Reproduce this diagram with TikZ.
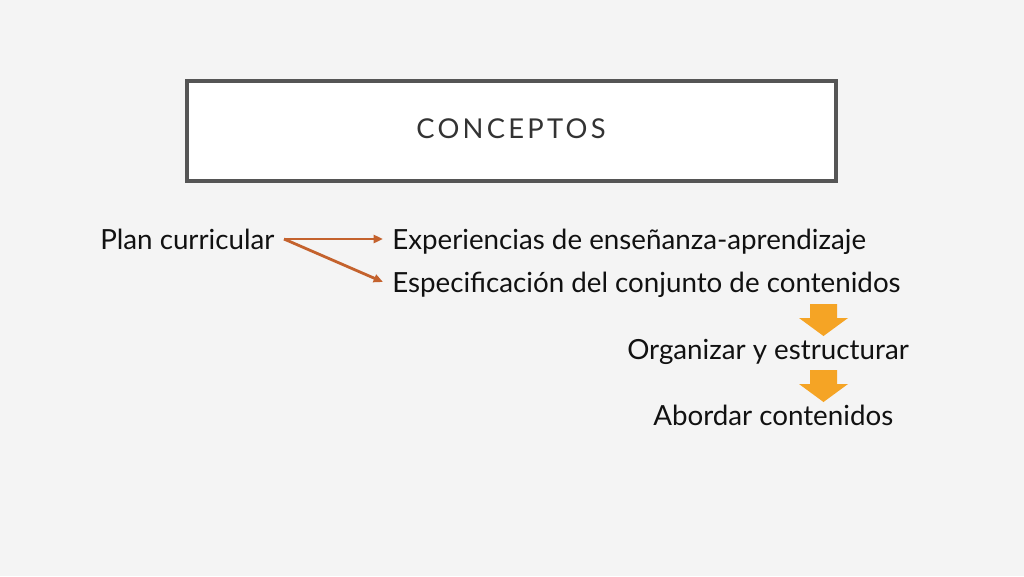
\documentclass[tikz,border=0pt]{standalone}
\usepackage{fontspec}
\setmainfont{Lato}
\usetikzlibrary{arrows.meta}
\definecolor{bg}{HTML}{F4F4F4}
\definecolor{boxline}{HTML}{555555}
\definecolor{conn}{HTML}{C4622D}
\definecolor{blockarr}{HTML}{F5A425}
\definecolor{txt}{HTML}{111111}
\definecolor{ttl}{HTML}{333333}
\tikzset{
  body/.style={anchor=base west, inner sep=0pt, text=txt, font=\fontsize{20.8}{25}\selectfont},
  title/.style={anchor=base, inner sep=0pt, text=ttl, font=\fontsize{20.5}{24}\selectfont\addfontfeatures{LetterSpace=12}},
  conn/.style={draw=conn, line width=2.1pt, -{Triangle[length=7pt,width=6pt]}},
  blockarrow/.style={fill=blockarr, draw=none}
}
\begin{document}
\begin{tikzpicture}[x=0.75pt,y=-0.75pt]
\fill[bg] (0,0) rectangle (1024,576);
\useasboundingbox (0,0) rectangle (1024,576);
\draw[boxline, line width=2.3pt, fill=white] (187,81) rectangle (836,181);
\node[title] (t) at (511,138) {CONCEPTOS};
\node[body] (plan) at (100,249) {Plan curricular};
\coordinate (s) at (284,239);
\node[body] (exp) at (392,249) {Experiencias de enseñanza-aprendizaje};
\node[body] (esp) at (392,292) {Especificación del conjunto de contenidos};
\node[body] (org) at (627,359) {Organizar y estructurar};
\node[body] (abo) at (653,425) {Abordar contenidos};
\coordinate (e1) at (383,239);
\coordinate (e2) at (383,282);
\draw[conn] (s) -- (e1);
\draw[conn] (s) -- (e2);
\fill[blockarrow] (810,304) -- (837,304) -- (837,318) -- (848,318) -- (823.5,336) -- (799,318) -- (810,318) -- cycle;
\fill[blockarrow] (810,370) -- (837,370) -- (837,384) -- (848,384) -- (823.5,402) -- (799,384) -- (810,384) -- cycle;
\end{tikzpicture}
\end{document}
